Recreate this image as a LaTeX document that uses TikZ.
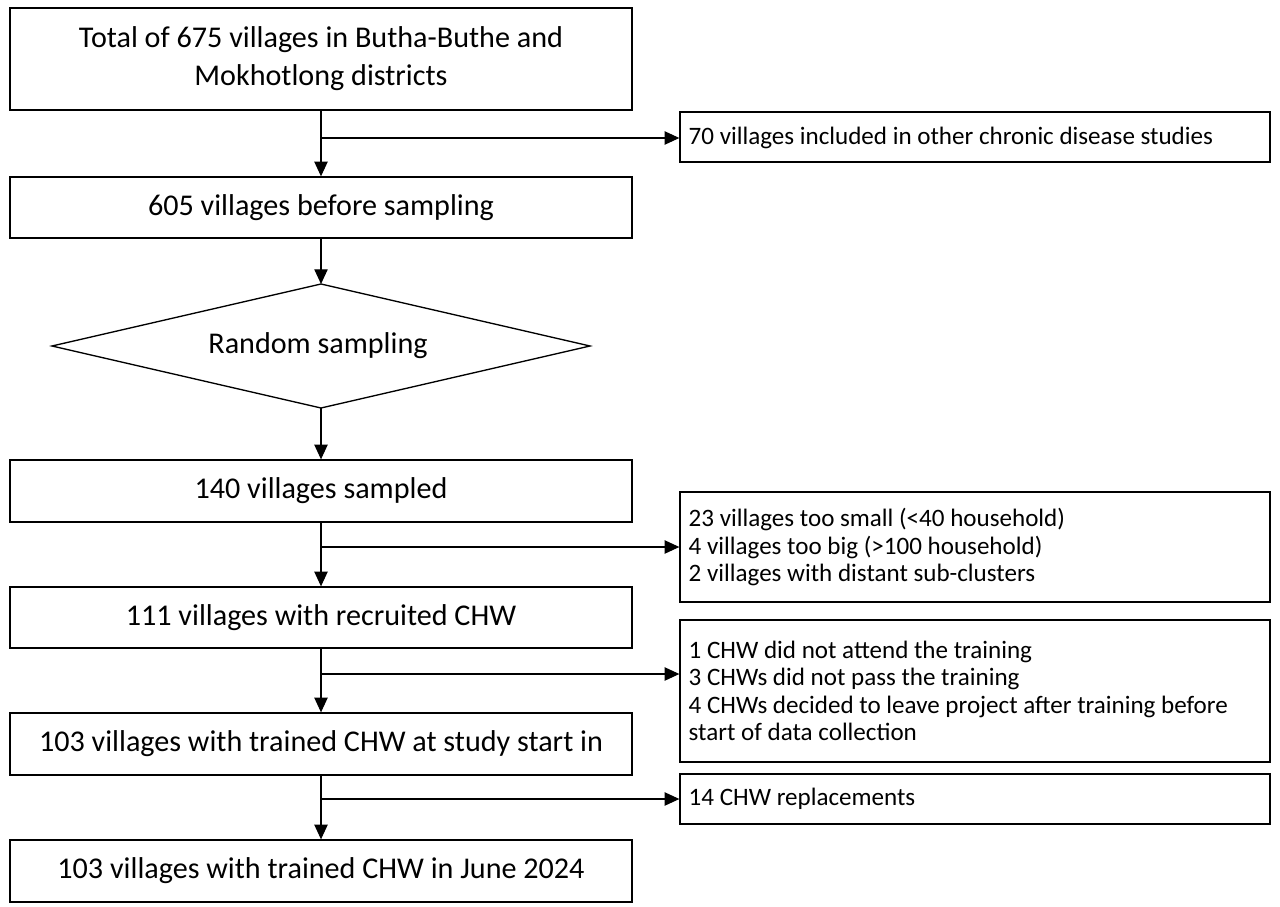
\documentclass[tikz,border=0pt]{standalone}
\usepackage{fontspec}
\setmainfont{Carlito}
\usetikzlibrary{arrows.meta,shapes.geometric}
\begin{document}
\begin{tikzpicture}[x=0.75pt,y=-0.75pt,
  box/.style={draw,line width=1pt,inner sep=0},
  big/.style={font=\fontsize{22.6}{28.5}\selectfont,align=center},
  small/.style={font=\fontsize{18.8}{20.5}\selectfont,align=left,anchor=west},
  arr/.style={line width=0.8pt,-{Triangle[length=11pt,width=10pt]}}]
\useasboundingbox (0,0) rectangle (1280,906);
% main boxes
\draw[box] (10,8) rectangle (632,110); \node[big] (t1) at (321,59) {Total of 675 villages in Butha-Buthe and\\Mokhotlong districts};
\node[box,minimum width=466.5pt,minimum height=45.75pt] (b2) at (321,207.5) {};
\node[big] at (b2) {605 villages before sampling};
\coordinate (dn) at (321,284); \coordinate (ds) at (321,408);
\coordinate (dw) at (52,346); \coordinate (de) at (590,346);
\draw[line width=1pt] (dn) -- (de) -- (ds) -- (dw) -- cycle;
\node[big] (dt) at (318,346) {Random sampling};
\node[box,minimum width=466.5pt,minimum height=46.5pt] (b3) at (321,491) {};
\node[big] at (b3) {140 villages sampled};
\node[box,minimum width=466.5pt,minimum height=45.75pt] (b4) at (321,617.5) {};
\node[big] at (b4) {111 villages with recruited CHW};
\node[box,minimum width=466.5pt,minimum height=46.5pt] (b5) at (321,744) {};
\node[big] at (b5) {103 villages with trained CHW at study start in};
\node[box,minimum width=466.5pt,minimum height=46.5pt] (b6) at (321,871) {};
\node[big] at (b6) {103 villages with trained CHW in June 2024};
\coordinate (b1s) at (321,110);
% side boxes
\node[box,minimum width=442.5pt,minimum height=37.5pt] (s1) at (975,137) {};
\node[small] at (684,138) {70 villages included in other chronic disease studies};
\node[box,minimum width=442.5pt,minimum height=82.5pt] (s2) at (975,547) {};
\node[small] at (684,547) {23 villages too small (<40 household)\\4 villages too big (>100 household)\\2 villages with distant sub-clusters};
\node[box,minimum width=442.5pt,minimum height=106.5pt] (s3) at (975,691) {};
\node[small] at (684,691) {1 CHW did not attend the training\\3 CHWs did not pass the training\\4 CHWs decided to leave project after training before\\start of data collection};
\node[box,minimum width=442.5pt,minimum height=37.5pt] (s4) at (975,799) {};
\node[small] at (684,799) {14 CHW replacements};
% trunk arrows
\draw[arr] (b1s) -- (b2.north);
\draw[arr] (b2.south) -- (dn);
\draw[arr] (ds) -- (b3.north);
\draw[arr] (b3.south) -- (b4.north);
\draw[arr] (b4.south) -- (b5.north);
\draw[arr] (b5.south) -- (b6.north);
% branches
\coordinate (c1) at (321,138); \draw[arr] (c1) -- (c1 -| s1.west);
\coordinate (c2) at (321,547); \draw[arr] (c2) -- (c2 -| s2.west);
\coordinate (c3) at (321,674); \draw[arr] (c3) -- (c3 -| s3.west);
\coordinate (c4) at (321,799); \draw[arr] (c4) -- (c4 -| s4.west);
\end{tikzpicture}
\end{document}
